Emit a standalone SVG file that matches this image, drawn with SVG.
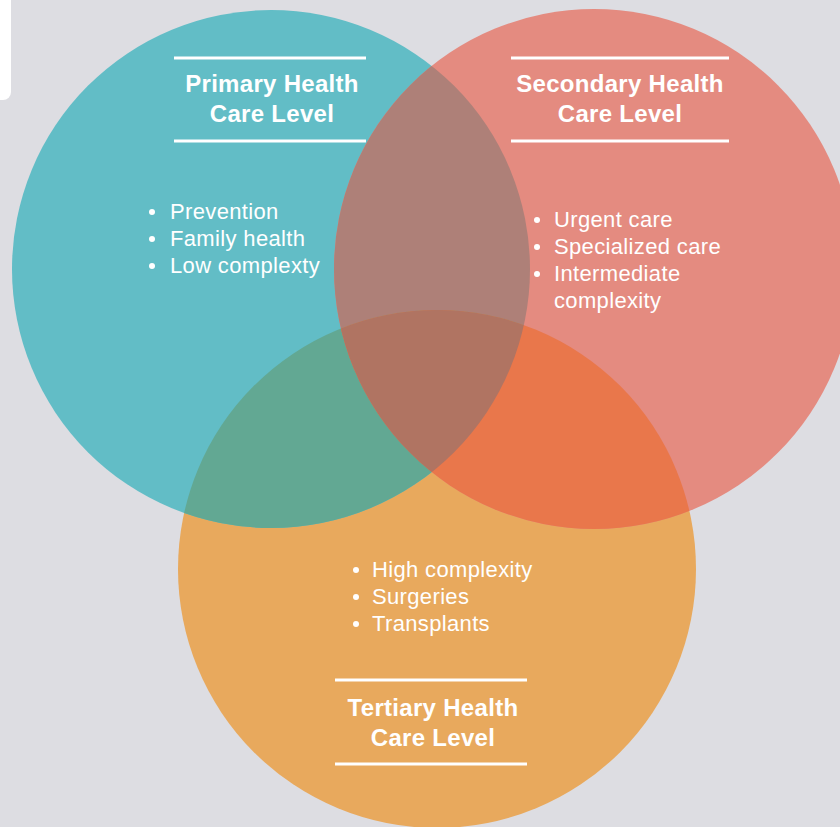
<svg xmlns="http://www.w3.org/2000/svg" width="840" height="827" viewBox="0 0 840 827">
<style>
.title{font-family:"Liberation Sans",Arial,sans-serif;font-weight:bold;font-size:24px;letter-spacing:0.3px;fill:#ffffff;text-anchor:middle}
.item{font-family:"Liberation Sans",Arial,sans-serif;font-size:22px;letter-spacing:0.35px;fill:#ffffff}
.rule{stroke:#ffffff;stroke-width:3}
</style>
<defs>
<clipPath id="cT"><circle cx="271" cy="269" r="259"/></clipPath>
<clipPath id="cS"><circle cx="594" cy="269" r="260"/></clipPath>
</defs>
<rect x="0" y="0" width="840" height="827" fill="#dddde2"/>
<rect x="-12" y="-12" width="23" height="112" rx="8" fill="#ffffff"/>
<g id="circles">
<circle cx="437" cy="569" r="259" fill="#e8a95d"/>
<circle cx="271" cy="269" r="259" fill="#62bdc6"/>
<circle cx="594" cy="269" r="260" fill="#e48b80"/>
<circle cx="594" cy="269" r="260" fill="#ae8078" clip-path="url(#cT)"/>
<circle cx="437" cy="569" r="259" fill="#62a893" clip-path="url(#cT)"/>
<circle cx="437" cy="569" r="259" fill="#e9774b" clip-path="url(#cS)"/>
<g clip-path="url(#cT)"><circle cx="437" cy="569" r="259" fill="#b07462" clip-path="url(#cS)"/></g>
</g>
<g id="primary">
<line class="rule" x1="174" y1="58" x2="366" y2="58"/>
<line class="rule" x1="174" y1="141" x2="366" y2="141"/>
<text class="title" x="272" y="92">Primary Health</text>
<text class="title" x="272" y="122">Care Level</text>
<circle cx="152" cy="212" r="3" fill="#fff"/><text class="item" x="170" y="219">Prevention</text>
<circle cx="152" cy="239" r="3" fill="#fff"/><text class="item" x="170" y="246">Family health</text>
<circle cx="152" cy="266" r="3" fill="#fff"/><text class="item" x="170" y="273">Low complexty</text>
</g>
<g id="secondary">
<line class="rule" x1="511" y1="58" x2="729" y2="58"/>
<line class="rule" x1="511" y1="141" x2="729" y2="141"/>
<text class="title" x="620" y="92">Secondary Health</text>
<text class="title" x="620" y="122">Care Level</text>
<circle cx="537" cy="220" r="3" fill="#fff"/><text class="item" x="554" y="227">Urgent care</text>
<circle cx="537" cy="247" r="3" fill="#fff"/><text class="item" x="554" y="254">Specialized care</text>
<circle cx="537" cy="274" r="3" fill="#fff"/><text class="item" x="554" y="281">Intermediate</text>
<text class="item" x="554" y="308">complexity</text>
</g>
<g id="tertiary">
<line class="rule" x1="335" y1="680" x2="527" y2="680"/>
<line class="rule" x1="335" y1="764" x2="527" y2="764"/>
<text class="title" x="433" y="716">Tertiary Health</text>
<text class="title" x="433" y="746">Care Level</text>
<circle cx="356" cy="570" r="3" fill="#fff"/><text class="item" x="372" y="577">High complexity</text>
<circle cx="356" cy="597" r="3" fill="#fff"/><text class="item" x="372" y="604">Surgeries</text>
<circle cx="356" cy="624" r="3" fill="#fff"/><text class="item" x="372" y="631">Transplants</text>
</g>
</svg>
